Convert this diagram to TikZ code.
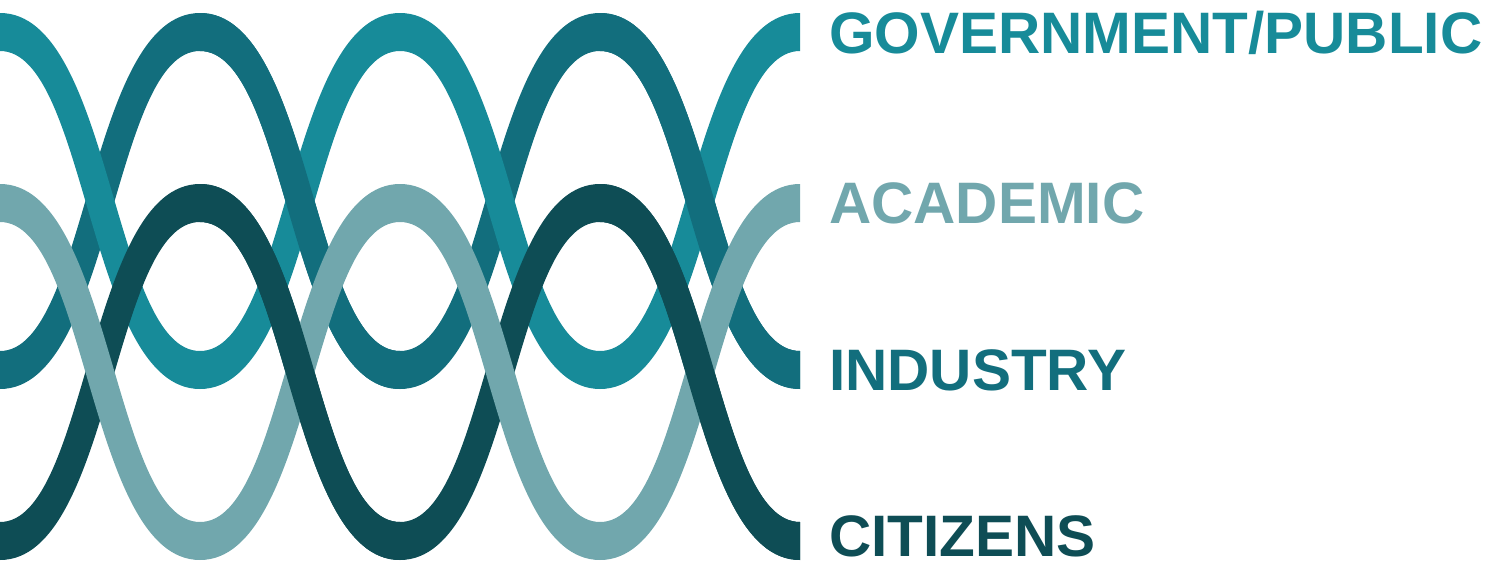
\documentclass[tikz,border=0pt]{standalone}
\usepackage{fontspec}
\setmainfont{Liberation Sans}
\definecolor{govc}{HTML}{178B99}
\definecolor{indc}{HTML}{126E7D}
\definecolor{acac}{HTML}{71A7AD}
\definecolor{citc}{HTML}{0E4D55}
% #1 colour, #2 peak outer, #3 peak inner, #4 trough inner, #5 trough outer
\newcommand\peakband[5]{\fill[#1] (0,#2) .. controls (112,#2) and (112,#4) .. (200,#4) .. controls (288,#4) and (288,#2) .. (400,#2) .. controls (512,#2) and (512,#4) .. (600,#4) .. controls (688,#4) and (688,#2) .. (800,#2) -- (800,#3) .. controls (712,#3) and (712,#5) .. (600,#5) .. controls (488,#5) and (488,#3) .. (400,#3) .. controls (312,#3) and (312,#5) .. (200,#5) .. controls (88,#5) and (88,#3) .. (0,#3) -- cycle;}
\newcommand\troughband[5]{\fill[#1] (0,#4) .. controls (88,#4) and (88,#2) .. (200,#2) .. controls (312,#2) and (312,#4) .. (400,#4) .. controls (488,#4) and (488,#2) .. (600,#2) .. controls (712,#2) and (712,#4) .. (800,#4) -- (800,#5) .. controls (688,#5) and (688,#3) .. (600,#3) .. controls (512,#3) and (512,#5) .. (400,#5) .. controls (288,#5) and (288,#3) .. (200,#3) .. controls (112,#3) and (112,#5) .. (0,#5) -- cycle;}
\newcommand\descseg[6]{\fill[#1,xshift=#6] (0,#2) .. controls (112,#2) and (112,#4) .. (200,#4) -- (200,#5) .. controls (88,#5) and (88,#3) .. (0,#3) -- cycle;}
\begin{document}
\begin{tikzpicture}[x=1pt,y=-1pt,
  lbl/.style={anchor=base west, inner sep=0pt, text depth=0pt, font=\fontsize{58.5}{60}\selectfont\bfseries}]
\useasboundingbox (0,0) rectangle (1489,563);
% upper pair
\troughband{indc}{13}{51}{351}{389}
\peakband{govc}{13}{51}{351}{389}
\descseg{indc}{13}{51}{351}{389}{200}
\descseg{indc}{13}{51}{351}{389}{600}
% lower pair
\troughband{citc}{184}{222}{522}{560}
\peakband{acac}{184}{222}{522}{560}
\descseg{citc}{184}{222}{522}{560}{200}
\descseg{citc}{184}{222}{522}{560}{600}
% labels
\node[lbl, text=govc] (gov) at (829,53) {GOVERNMENT/PUBLIC};
\node[lbl, text=acac] (aca) at (829,223) {ACADEMIC};
\node[lbl, text=indc] (ind) at (829,390) {INDUSTRY};
\node[lbl, text=citc] (cit) at (829,556) {CITIZENS};
\end{tikzpicture}
\end{document}
